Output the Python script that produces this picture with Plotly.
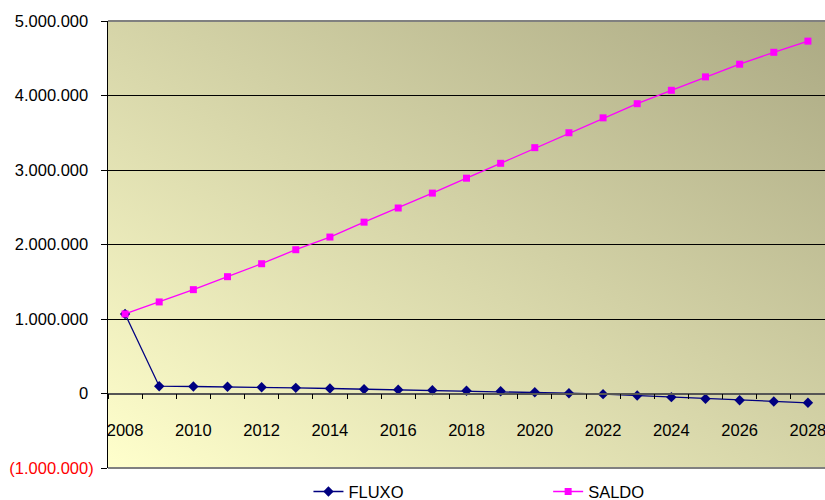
import base64
import plotly.graph_objects as go

years = list(range(2008, 2029))
fluxo = [1068000, 98000, 94000, 90000, 84000, 76000, 67000, 58000, 51000, 44000,
         37000, 31000, 17000, 4000, -9000, -27000, -49000, -71000, -90000, -107000, -125000]
saldo = [1068000, 1229000, 1394000, 1568000, 1742000, 1930000, 2100000, 2300000, 2490000,
         2690000, 2890000, 3090000, 3300000, 3500000, 3700000, 3890000, 4070000, 4250000,
         4420000, 4580000, 4730000]
ytick_vals = [-1000000, 0, 1000000, 2000000, 3000000, 4000000, 5000000]
ytick_labels = ["(1.000.000)", "0", "1.000.000", "2.000.000", "3.000.000", "4.000.000", "5.000.000"]
xtick_vals = list(range(2008, 2029, 2))
xtick_text = [str(y) for y in xtick_vals]

PAD = '<span style="color:rgba(0,0,0,0)">)</span>'
ytick_text = [('<span style="color:#FF0000">%s</span>' % t) if t.startswith("(") else t + PAD
              for t in ytick_labels]

FONT = "Liberation Sans, Arial, sans-serif"
FS = 16.5

svg = ('<svg xmlns="http://www.w3.org/2000/svg" width="100" height="100" preserveAspectRatio="none">'
       '<defs><linearGradient id="g" x1="0" y1="1" x2="1" y2="0">'
       '<stop offset="0" stop-color="#FFFFCC"/><stop offset="1" stop-color="#ACAA84"/>'
       '</linearGradient></defs><rect width="100" height="100" fill="url(#g)"/></svg>')
bg = "data:image/svg+xml;base64," + base64.b64encode(svg.encode()).decode()

fig = go.Figure()
fig.add_trace(go.Scatter(x=years, y=fluxo, name="FLUXO", mode="lines+markers",
                         line=dict(color="#000080", width=1.3),
                         marker=dict(symbol="diamond", size=8, color="#000080"),
                         legend="legend"))
fig.add_trace(go.Scatter(x=years, y=saldo, name="SALDO", mode="lines+markers",
                         line=dict(color="#FF00FF", width=1.3),
                         marker=dict(symbol="square", size=7, color="#FF00FF"),
                         legend="legend2"))

fig.update_layout(
    width=825, height=500,
    margin=dict(l=108, r=0, t=21, b=32, autoexpand=False),
    paper_bgcolor="white", plot_bgcolor="rgba(0,0,0,0)",
    font=dict(family=FONT, size=FS, color="black"),
    images=[dict(source=bg, xref="paper", yref="paper", x=0, y=1, sizex=1, sizey=1,
                 sizing="stretch", layer="below", xanchor="left", yanchor="top")],
    xaxis=dict(range=[2007.5, 2028.5], anchor="free", position=1/6, automargin=False,
               tickmode="array", tickvals=xtick_vals, ticktext=xtick_text,
               ticks="", showgrid=False, zeroline=False, ticklabeloverflow="allow",
               showline=True, linecolor="#555555", linewidth=1.5,
               ticklabelstandoff=22,
               minor=dict(tick0=2007.5, dtick=1, ticks="outside", ticklen=5,
                          tickcolor="black", showgrid=False),
               tickfont=dict(family=FONT, size=FS, color="black")),
    yaxis=dict(range=[-1000000, 5000000], tickmode="array", tickvals=ytick_vals,
               ticktext=ytick_text, ticks="outside", ticklen=6, tickcolor="black",
               showgrid=True, gridcolor="black", gridwidth=1, zeroline=False,
               showline=True, linecolor="black", linewidth=1, automargin=False,
               ticklabelstandoff=4, ticklabeloverflow="allow",
               tickfont=dict(family=FONT, size=FS, color="black")),
    showlegend=True,
    legend=dict(orientation="h", x=0.35, y=-0.014, xanchor="center", yanchor="top",
                bgcolor="rgba(0,0,0,0)", font=dict(family=FONT, size=FS)),
    legend2=dict(orientation="h", x=0.685, y=-0.014, xanchor="center", yanchor="top",
                 bgcolor="rgba(0,0,0,0)", font=dict(family=FONT, size=FS)),
    shapes=[
        dict(type="line", xref="paper", yref="paper", x0=0, x1=1, y0=1, y1=1,
             line=dict(color="#808080", width=2)),
        dict(type="line", xref="paper", yref="paper", x0=0, x1=1, y0=0, y1=0,
             line=dict(color="#808080", width=2)),
    ],
)

fig.write_html("out.html", config={"displayModeBar": False},
               post_script="document.body.style.margin='0';document.body.style.overflow='hidden';")
